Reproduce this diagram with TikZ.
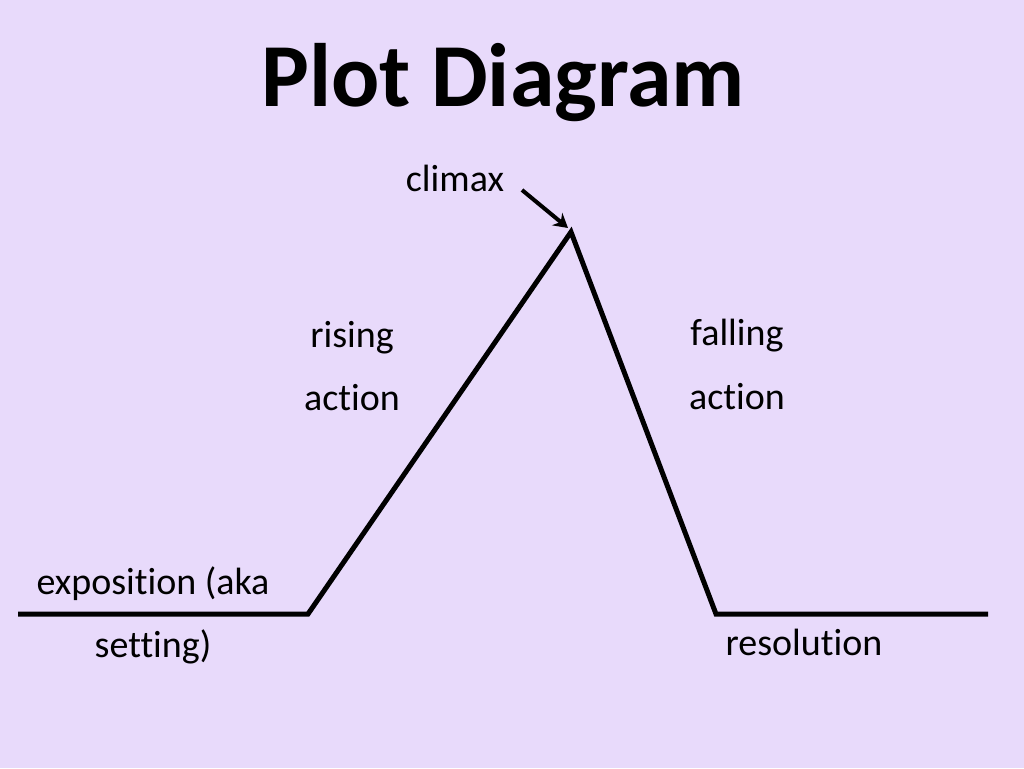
\documentclass[tikz,border=0pt]{standalone}
\usepackage{fontspec}
\setmainfont{Carlito}[Ligatures=NoCommon]
\usetikzlibrary{arrows.meta}
\definecolor{bg}{HTML}{E8DAFB}
\tikzset{lbl/.style={font=\fontsize{38}{40}\selectfont, inner sep=0pt}}
\begin{document}
\begin{tikzpicture}[x=1pt,y=-1pt]
\fill[bg] (0,0) rectangle (1024,768);
\useasboundingbox (0,0) rectangle (1024,768);
\node[inner sep=0pt,font=\fontsize{90}{92}\selectfont\bfseries] (title) at (503,83) {Plot Diagram};
\coordinate (a) at (18,614);
\coordinate (b) at (308,614);
\coordinate (c) at (571,232);
\coordinate (d) at (716,614);
\coordinate (e) at (988,614);
\draw[line width=5pt, line join=miter] (a) -- (b) -- (c) -- (d) -- (e);
\node[lbl] (climax) at (455,178) {climax};
\coordinate (as) at (522,190);
\coordinate (ae) at (568,228);
\draw[line width=4pt, -{Stealth[length=14pt,width=16pt]}] (as) -- (ae);
\node[lbl] (r1) at (352,338) {rising};
\node[lbl] (r2) at (352,398) {action};
\node[lbl] (f1) at (737,336) {falling};
\node[lbl] (f2) at (737,397) {action};
\node[lbl] (x1) at (153,584) {exposition (aka};
\node[lbl] (x2) at (153,647) {setting)};
\node[lbl] (res) at (804,642) {resolution};
\end{tikzpicture}
\end{document}
